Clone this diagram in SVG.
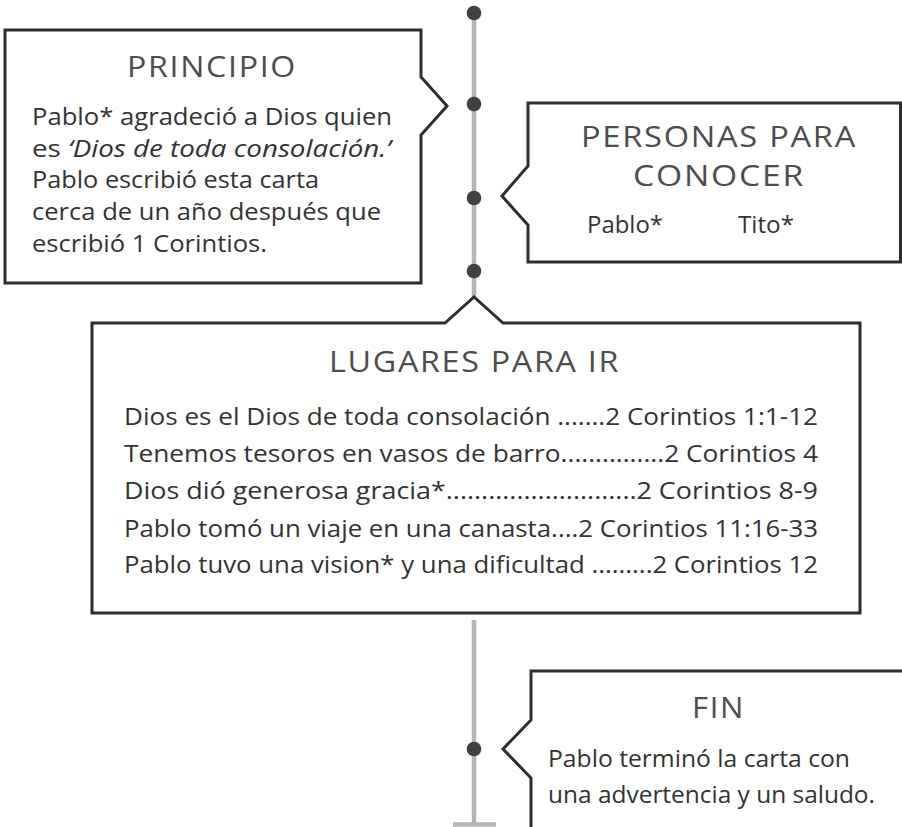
<svg xmlns="http://www.w3.org/2000/svg" width="902" height="827" viewBox="0 0 902 827">
<style>
.box{fill:#fff;stroke:#2e2e2e;stroke-width:3;stroke-linejoin:miter}
.line{stroke:#b5b5b5;stroke-width:4.5;fill:none}
.dot{fill:#414141}
.h{font-family:"Open Sans","Noto Sans",sans-serif;font-size:28.5px;fill:#4d4d4d;text-anchor:middle;letter-spacing:1.5px;font-variant-ligatures:none}
.b{font-family:"Open Sans","Noto Sans",sans-serif;font-size:23.5px;fill:#333;font-variant-ligatures:none}
.i{font-style:italic}
</style>
<rect width="902" height="827" fill="#fff"/>
<g id="connectors">
<line class="line" x1="474" y1="13" x2="474" y2="298"/>
<line class="line" x1="474" y1="620" x2="474" y2="824"/>
<line class="line" x1="453" y1="824.5" x2="496" y2="824.5"/>
<circle class="dot" cx="474" cy="13" r="7.3"/>
<circle class="dot" cx="474" cy="104" r="7.3"/>
<circle class="dot" cx="474" cy="198" r="7.3"/>
<circle class="dot" cx="474" cy="271" r="7.3"/>
<circle class="dot" cx="474" cy="749" r="7.3"/>
</g>
<g id="principio">
<path class="box" d="M5,30 H421 V77 L447,106 L421,135 V283 H5 Z"/>
<text class="h" x="212" y="77" textLength="170" lengthAdjust="spacingAndGlyphs">PRINCIPIO</text>
<text class="b" x="32" y="125" textLength="360" lengthAdjust="spacingAndGlyphs">Pablo* agradeció a Dios quien</text>
<text class="b" x="32" y="157" textLength="359" lengthAdjust="spacingAndGlyphs">es <tspan class="i">‘Dios de toda consolación.’</tspan></text>
<text class="b" x="32" y="188" textLength="287" lengthAdjust="spacingAndGlyphs">Pablo escribió esta carta</text>
<text class="b" x="32" y="220" textLength="349" lengthAdjust="spacingAndGlyphs">cerca de un año después que</text>
<text class="b" x="32" y="252" textLength="235" lengthAdjust="spacingAndGlyphs">escribió 1 Corintios.</text>
</g>
<g id="personas">
<path class="box" d="M528,103 H900.5 V262 H528 V225 L502,196 L528,166 Z"/>
<text class="h" x="719" y="147" textLength="276" lengthAdjust="spacingAndGlyphs">PERSONAS PARA</text>
<text class="h" x="719" y="186" textLength="172" lengthAdjust="spacingAndGlyphs">CONOCER</text>
<text class="b" x="587" y="233" textLength="76" lengthAdjust="spacingAndGlyphs">Pablo*</text>
<text class="b" x="738" y="233" textLength="56" lengthAdjust="spacingAndGlyphs">Tito*</text>
</g>
<g id="lugares">
<path class="box" d="M92,323 H445 L474,297 L503,323 H860 V613 H92 Z"/>
<text class="h" x="474.5" y="372" textLength="291" lengthAdjust="spacingAndGlyphs">LUGARES PARA IR</text>
<text class="b" x="124" y="425" textLength="694" lengthAdjust="spacingAndGlyphs">Dios es el Dios de toda consolación .......2 Corintios 1:1-12</text>
<text class="b" x="124" y="462" textLength="694" lengthAdjust="spacingAndGlyphs">Tenemos tesoros en vasos de barro...............2 Corintios 4</text>
<text class="b" x="124" y="499" textLength="694" lengthAdjust="spacingAndGlyphs">Dios dió generosa gracia*...........................2 Corintios 8-9</text>
<text class="b" x="124" y="537" textLength="694" lengthAdjust="spacingAndGlyphs">Pablo tomó un viaje en una canasta....2 Corintios 11:16-33</text>
<text class="b" x="124" y="573" textLength="694" lengthAdjust="spacingAndGlyphs">Pablo tuvo una vision* y una dificultad .........2 Corintios 12</text>
</g>
<g id="fin">
<path class="box" d="M531,832 V778 L503,749 L531,720 V671 H906"/>
<text class="h" x="718.5" y="718" textLength="53" lengthAdjust="spacingAndGlyphs">FIN</text>
<text class="b" x="548" y="767" textLength="302" lengthAdjust="spacingAndGlyphs">Pablo terminó la carta con</text>
<text class="b" x="548" y="803" textLength="327" lengthAdjust="spacingAndGlyphs">una advertencia y un saludo.</text>
</g>
</svg>
